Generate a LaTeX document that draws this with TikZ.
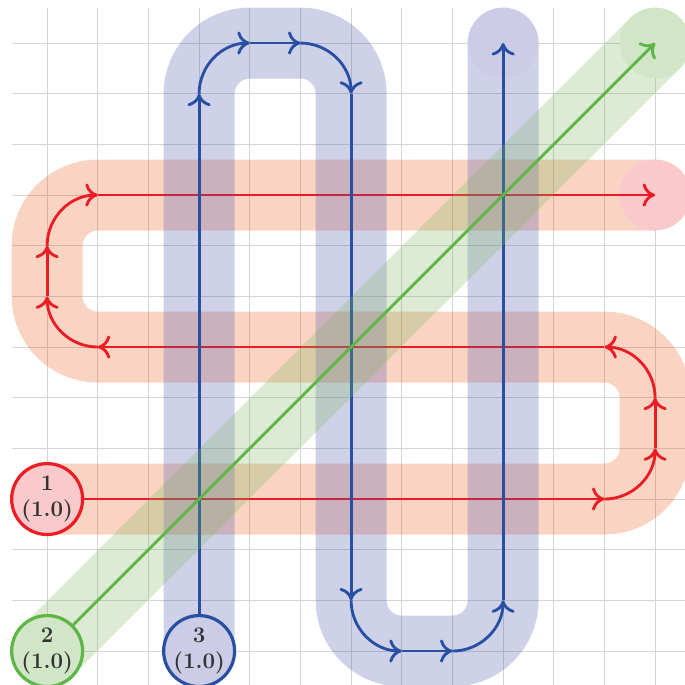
\documentclass[tikz,border=0pt]{standalone}
\usetikzlibrary{arrows.meta}
\definecolor{rline}{RGB}{237,28,36}
\definecolor{bline}{RGB}{40,80,162}
\definecolor{gline}{RGB}{93,182,70}
\definecolor{rband}{RGB}{231,87,23}
\definecolor{bband}{RGB}{70,77,170}
\definecolor{gband}{RGB}{123,179,87}
\definecolor{rfill}{RGB}{249,201,203}
\definecolor{bfill}{RGB}{205,204,231}
\definecolor{gfill}{RGB}{209,230,198}
\tikzset{
  gridline/.style={draw=black!17, line width=0.6pt},
  band/.style={line width=1.4cm, draw opacity=0.26},
  flow/.style={line width=1.6pt, -{To[length=7pt,width=13pt]}},
  endcirc/.style={circle, minimum size=1.4cm, inner sep=0pt},
  startnode/.style={circle, minimum size=1.4cm, inner sep=0pt, line width=1.8pt,
    align=center, font=\fontsize{12.5}{15}\selectfont\bfseries, text=black!80}
}
\begin{document}
\begin{tikzpicture}[x=1cm,y=1cm]
\useasboundingbox (-0.93,-0.67) rectangle (12.59,12.85);
\draw[gridline,step=1] (-0.7,-0.7) grid (12.7,12.7);

% ---------- red flow ----------
\coordinate (r0) at (0,3);
\coordinate (r1) at (11,3);
\coordinate (r2) at (12,4);
\coordinate (r3) at (12,5);
\coordinate (r4) at (11,6);
\coordinate (r5) at (1,6);
\coordinate (r6) at (0,7);
\coordinate (r7) at (0,8);
\coordinate (r8) at (1,9);
\coordinate (rend) at (12,9);
\draw[band,rband] (r0) -- (r1) arc[start angle=-90,end angle=0,radius=1]
  -- (r3) arc[start angle=0,end angle=90,radius=1]
  -- (r5) arc[start angle=-90,end angle=-180,radius=1]
  -- (r7) arc[start angle=180,end angle=90,radius=1] -- (rend);
\node[endcirc,fill=rfill] (redend) at (rend) {};
\node[startnode,draw=rline,fill=rfill] (n1) at (r0) {1\\(1.0)};
\draw[flow,rline] (n1) -- (r1);
\draw[flow,rline] (r1) arc[start angle=-90,end angle=0,radius=1];
\draw[flow,rline] (r2) -- (r3);
\draw[flow,rline] (r3) arc[start angle=0,end angle=90,radius=1];
\draw[flow,rline] (r4) -- (r5);
\draw[flow,rline] (r5) arc[start angle=-90,end angle=-180,radius=1];
\draw[flow,rline] (r6) -- (r7);
\draw[flow,rline] (r7) arc[start angle=180,end angle=90,radius=1];
\draw[flow,rline] (r8) -- (redend.center);

% ---------- blue flow ----------
\coordinate (b0) at (3,0);
\coordinate (b1) at (3,11);
\coordinate (b2) at (4,12);
\coordinate (b3) at (5,12);
\coordinate (b4) at (6,11);
\coordinate (b5) at (6,1);
\coordinate (b6) at (7,0);
\coordinate (b7) at (8,0);
\coordinate (b8) at (9,1);
\coordinate (bend) at (9,12);
\draw[band,bband] (b0) -- (b1) arc[start angle=180,end angle=90,radius=1]
  -- (b3) arc[start angle=90,end angle=0,radius=1]
  -- (b5) arc[start angle=180,end angle=270,radius=1]
  -- (b7) arc[start angle=270,end angle=360,radius=1] -- (bend);
\node[endcirc,fill=bfill] (blueend) at (bend) {};
\node[startnode,draw=bline,fill=bfill] (n3) at (b0) {3\\(1.0)};
\draw[flow,bline] (n3) -- (b1);
\draw[flow,bline] (b1) arc[start angle=180,end angle=90,radius=1];
\draw[flow,bline] (b2) -- (b3);
\draw[flow,bline] (b3) arc[start angle=90,end angle=0,radius=1];
\draw[flow,bline] (b4) -- (b5);
\draw[flow,bline] (b5) arc[start angle=180,end angle=270,radius=1];
\draw[flow,bline] (b6) -- (b7);
\draw[flow,bline] (b7) arc[start angle=270,end angle=360,radius=1];
\draw[flow,bline] (b8) -- (blueend.center);

% ---------- green flow ----------
\coordinate (g0) at (0,0);
\coordinate (gend) at (12,12);
\draw[band,gband] (g0) -- (gend);
\node[endcirc,fill=gfill] (greenend) at (gend) {};
\node[startnode,draw=gline,fill=gfill] (n2) at (g0) {2\\(1.0)};
\draw[flow,gline] (n2) -- (greenend.center);
\end{tikzpicture}
\end{document}
